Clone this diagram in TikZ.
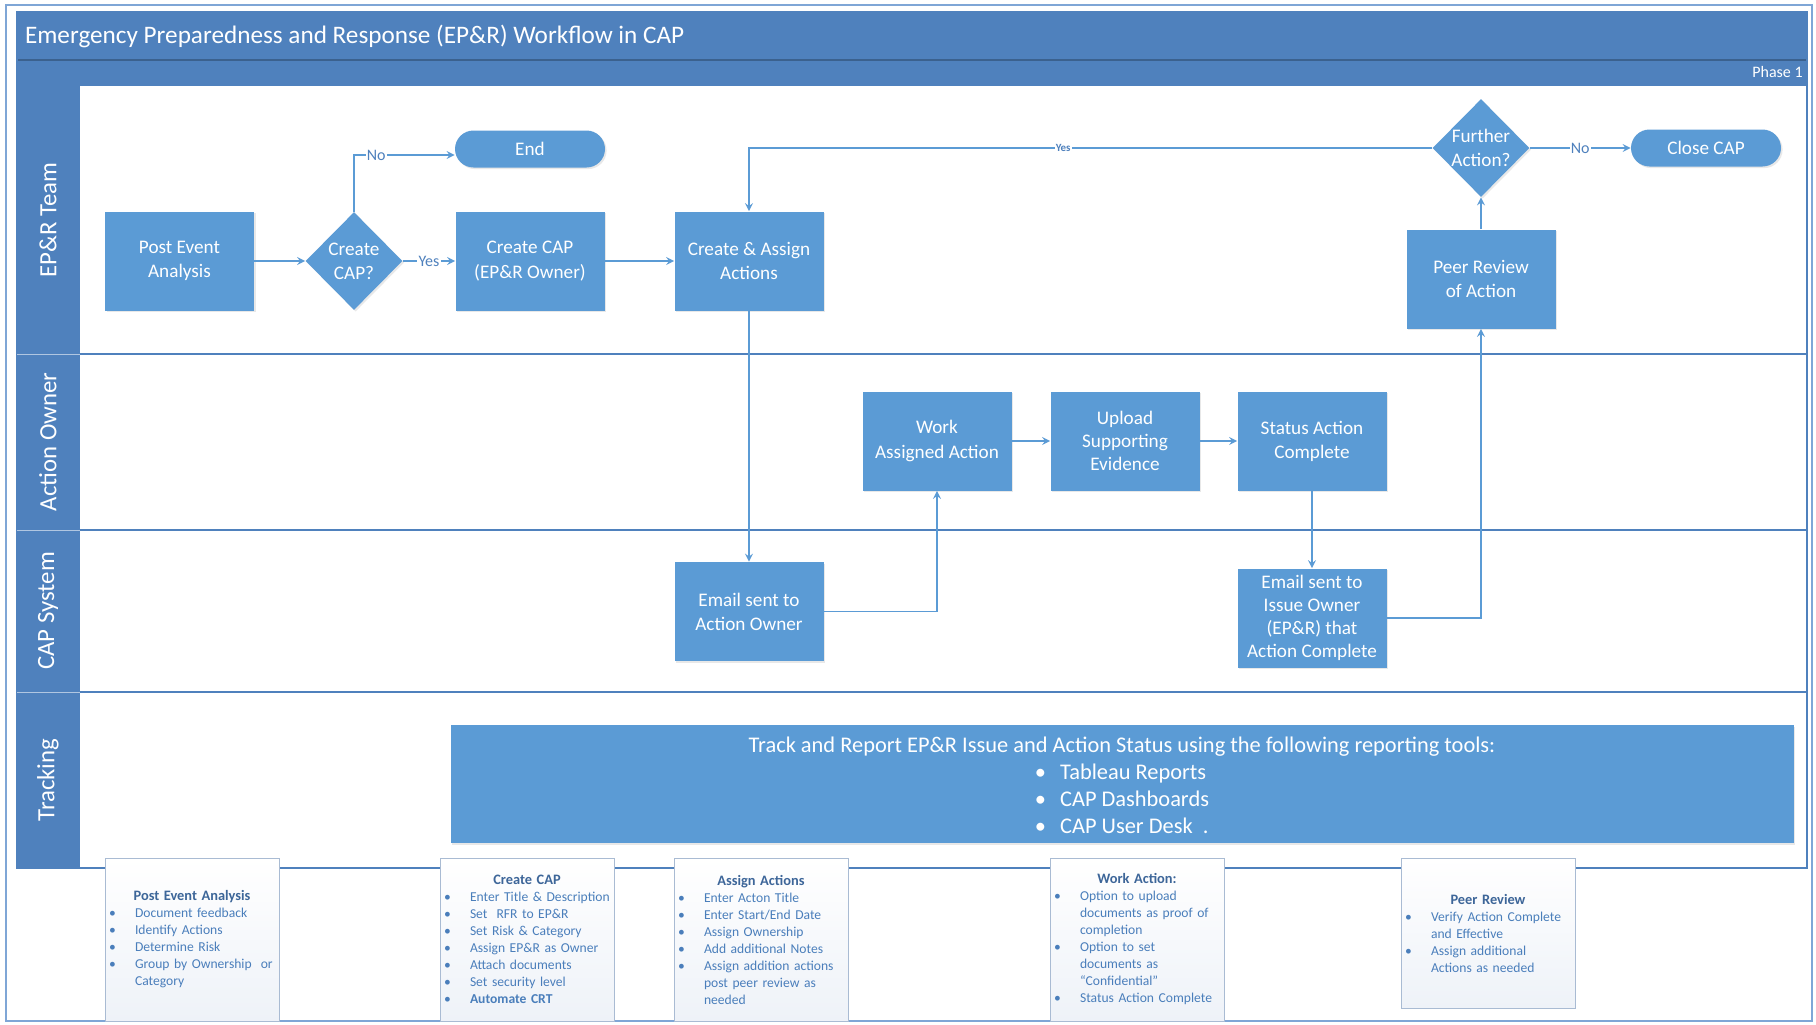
\documentclass[tikz,border=0pt]{standalone}
\usepackage{fontspec}
\setmainfont{Carlito}
\usepackage{enumitem}
\usepackage{xcolor}
\usepackage{tikz}
\usetikzlibrary{arrows}
\usetikzlibrary{positioning}
\usetikzlibrary{shapes.geometric, shadows}
\definecolor{poolblue}{HTML}{4F81BD}
\definecolor{boxblue}{HTML}{5B9BD5}
\definecolor{outerblue}{HTML}{7FA6D6}
\definecolor{noteline}{HTML}{A9BBD3}
\definecolor{noteshade}{HTML}{EEF2F8}
\definecolor{notetext}{HTML}{4A7EBB}
\definecolor{notehead}{HTML}{3D6699}
\tikzstyle{process} = [rectangle, minimum width=74.5pt, minimum height=49.5pt, inner sep=1pt, align=center, fill=boxblue, text=white, font=\fontsize{9.6}{12.1}\selectfont, drop shadow={opacity=0.18, shadow xshift=0.8pt, shadow yshift=-0.8pt}]
\tikzstyle{decision} = [diamond, aspect=1, inner sep=0pt, minimum width=48.5pt, minimum height=49pt, align=center, fill=boxblue, text=white, font=\fontsize{9.6}{11.9}\selectfont, drop shadow={opacity=0.18, shadow xshift=0.8pt, shadow yshift=-0.8pt}]
\tikzstyle{terminal} = [rectangle, rounded corners=9.25pt, minimum width=75pt, minimum height=18.5pt, fill=boxblue, text=white, font=\fontsize{9.6}{11.7}\selectfont, drop shadow={opacity=0.18, shadow xshift=0.8pt, shadow yshift=-0.8pt}]
\tikzstyle{arrow} = [line width=0.75pt, draw=boxblue, ->, >=stealth]
\tikzstyle{branch} = [fill=white, text=poolblue, inner sep=0.6pt, font=\fontsize{8}{9}\selectfont]
\tikzstyle{note} = [rectangle, draw=noteline, top color=white, bottom color=noteshade, text width=86pt, inner xsep=0.5pt, minimum height=81.5pt, align=left, text=notetext, font=\fontsize{6.8}{8.5}\selectfont]
\tikzstyle{lanetitle} = [rotate=90, text=white, font=\fontsize{12.4}{14}\selectfont]
\setlist[itemize]{label=\textbullet, leftmargin=14.5pt, labelsep=8pt, labelwidth=5pt, align=left, itemsep=0pt, topsep=0pt, parsep=0pt, partopsep=0pt}
\newcommand{\notehead}[1]{{\centering\color{notehead}\fontsize{7.2}{9.2}\selectfont\bfseries #1\par}}

\begin{document}
\begin{tikzpicture}[x=0.5pt, y=-0.5pt]
    \useasboundingbox (0,0) rectangle (1816,1024);
    \fill[white] (0,0) rectangle (1816,1024);
    % pool and lanes
    \draw[outerblue, line width=0.8pt] (6,5) rectangle (1812,1021);
    \fill[poolblue] (17,12) rectangle (1807,86);
    \draw[poolblue!75!black, line width=0.6pt] (17,60) -- (1807,60);
    \fill[poolblue] (17,86) rectangle (80,868);
    \draw[poolblue, line width=0.7pt] (17,12) rectangle (1807,868);
    \foreach \y in {354,530,692}{
        \draw[poolblue, line width=0.7pt] (80,\y) -- (1807,\y);
        \draw[white!55!poolblue, line width=0.5pt] (17,\y) -- (80,\y);
    }
    \node(title)[anchor=west, text=white, font=\fontsize{12.6}{14}\selectfont] at (18,36) {Emergency Preparedness and Response (EP\&R) Workflow in CAP};
    \node(phase)[anchor=east, text=white, font=\fontsize{8}{9}\selectfont, inner sep=1pt] at (1805,72) {Phase 1};
    \node(lane1)[lanetitle] at (48,220) {EP\&R Team};
    \node(lane2)[lanetitle] at (48,442) {Action Owner};
    \node(lane3)[lanetitle] at (48,611) {CAP System};
    \node(lane4)[lanetitle] at (48,780) {Tracking};

    % EP&R Team
    \node(pea)[process] at (179.5,261) {Post Event\\Analysis};
    \node(cc)[node distance=87.25pt, decision, right of=pea] {Create\\CAP?};
    \node(ccap)[node distance=88pt, process, right of=cc] {Create CAP\\(EP\&R Owner)};
    \node(endnode)[node distance=56pt, terminal, above of=ccap] {End};
    \node(assign)[node distance=109.5pt, process, right of=ccap] {Create \& Assign\\Actions};
    \node(peer)[process] at (1481,279) {Peer Review\\of Action};
    \node(further)[node distance=65.5pt, decision, above of=peer] {Further\\Action?};
    \node(closecap)[node distance=112.5pt, terminal, right of=further] {Close CAP};

    % Action Owner
    \node(work)[process] at (937,441) {Work\\Assigned Action};
    \node(upload)[node distance=94pt, process, right of=work, font=\fontsize{9.6}{11.6}\selectfont] {Upload\\Supporting\\Evidence};
    \node(status)[node distance=93.5pt, process, right of=upload] {Status Action\\Complete};

    % CAP System
    \node(emailao)[node distance=175.25pt, process, below of=assign] {Email sent to\\Action Owner};
    \node(emailio)[node distance=88.5pt, process, below of=status, font=\fontsize{9.6}{11.6}\selectfont] {Email sent to\\Issue Owner\\(EP\&R) that\\Action Complete};

    % Tracking
    \node(track)[rectangle, fill=boxblue, minimum width=671.5pt, minimum height=59pt, inner ysep=0pt, text=white, align=center, font=\fontsize{11.2}{13.5}\selectfont, drop shadow={opacity=0.18, shadow xshift=0.8pt, shadow yshift=-0.8pt}] at (1122,784) {\rule{0pt}{12.6pt}Track and Report EP\&R Issue and Action Status using the following reporting tools:\\
        \begin{tabular}[t]{@{}l@{}}
        \textbullet\hspace{7pt}Tableau Reports\\
        \textbullet\hspace{7pt}CAP Dashboards\\
        \textbullet\hspace{7pt}CAP User Desk\ \ .
        \end{tabular}};

    \draw[arrow](pea)--(cc);
    \draw[arrow](cc)--node[branch]{Yes}(ccap);
    \draw[arrow](cc.north)|-node[branch, pos=0.61]{No}([yshift=-3pt]endnode.west);
    \draw[arrow](ccap)--(assign);
    \draw[arrow](assign)--(emailao);
    \draw[arrow](emailao.east)-|(work.south);
    \draw[arrow](work)--(upload);
    \draw[arrow](upload)--(status);
    \draw[arrow](status)--(emailio);
    \draw[arrow](emailio.east)-|(peer.south);
    \draw[arrow](peer)--(further);
    \draw[arrow](further)--node[branch]{No}(closecap);
    \draw[arrow](further.west)-|node[branch, pos=0.27, font=\fontsize{5.5}{6}\selectfont\bfseries]{Yes}(assign.north);

    % notes under the pool
    \node(notepea)[note] at (192,939.5) {\notehead{Post Event Analysis}
        \begin{itemize}
        \item Document feedback
        \item Identify Actions
        \item Determine Risk
        \item Group by Ownership\ \ or\newline Category
        \end{itemize}};
    \node(noteccap)[note] at (527,939.5) {\notehead{Create CAP}
        \begin{itemize}
        \item Enter Title \& Description
        \item Set\ \ RFR to EP\&R
        \item Set Risk \& Category
        \item Assign EP\&R as Owner
        \item Attach documents
        \item Set security level
        \item \textbf{Automate CRT}
        \end{itemize}};
    \node(noteassign)[note] at (761,939.5) {\notehead{Assign Actions}
        \begin{itemize}
        \item Enter Acton Title
        \item Enter Start/End Date
        \item Assign Ownership
        \item Add additional Notes
        \item Assign addition actions\newline post peer review as\newline needed
        \end{itemize}};
    \node(notework)[note] at (1137,939.5) {\notehead{Work Action:}
        \begin{itemize}
        \item Option to upload\newline documents as proof of\newline completion
        \item Option to set\newline documents as\newline ``Confidential''
        \item Status Action Complete
        \end{itemize}};
    \node(notepeer)[note, minimum height=75pt] at (1488,933) {\notehead{Peer Review}
        \begin{itemize}
        \item Verify Action Complete\newline and Effective
        \item Assign additional\newline Actions as needed
        \end{itemize}};
\end{tikzpicture}
\end{document}
